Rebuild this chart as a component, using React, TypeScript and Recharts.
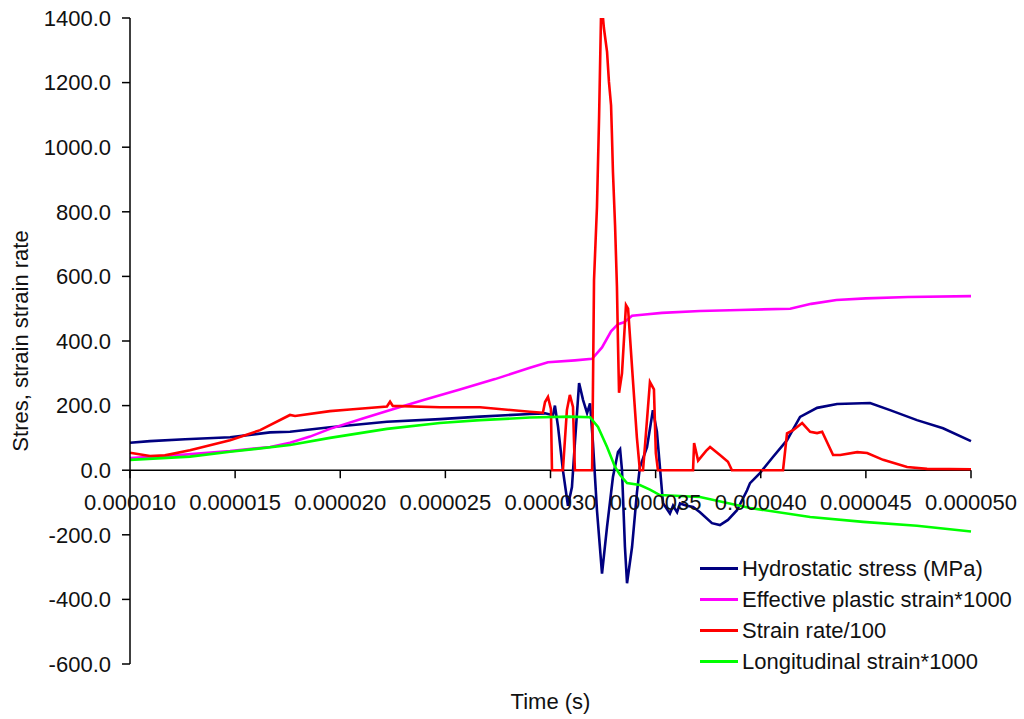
import { Legend, Line, LineChart, ReferenceLine, XAxis, YAxis } from "recharts";

// time values in microseconds, series values as plotted
const HYDRO_T = [10, 10.95, 12.62, 14.76, 16.66, 17.61, 19.51, 22.22, 24.74, 26.65, 29.02, 29.74, 30.12, 30.21, 30.36, 30.59, 30.83, 31.02, 31.16, 31.36, 31.55, 31.74, 31.88, 32.02, 32.21, 32.45, 32.69, 32.97, 33.21, 33.31, 33.4, 33.54, 33.64, 33.88, 34.11, 34.25, 34.59, 34.87, 35.06, 35.35, 35.68, 35.83, 36.02, 36.16, 36.49, 36.78, 37.11, 37.68, 38.06, 38.44, 38.87, 39.35, 39.49, 39.96, 40.58, 41.25, 41.87, 42.68, 43.63, 45.2, 46.15, 47.43, 48.67, 50];
const HYDRO = [85, 90, 96, 102, 117, 119, 133, 150, 158, 166, 174, 176, 170, 200, 134, 0, -110, -52, 84, 270, 217, 177, 207, 84, -124, -320, -175, -21, 56, 65, 0, -237, -350, -237, -70, 9, 71, 186, 120, -102, -134, -110, -130, -103, -110, -114, -130, -164, -170, -154, -124, -62, -40, -9, 41, 93, 165, 193, 205, 208, 186, 155, 130, 90];

const PLASTIC_T = [10, 12, 14.76, 16.66, 17.61, 18.56, 19.51, 21.07, 22.46, 24, 25.69, 27.36, 29.02, 29.88, 31.16, 31.98, 32.45, 32.88, 33.21, 33.5, 33.88, 34.49, 35.3, 37.11, 39, 41.4, 42.4, 43.6, 45, 47, 50];
const PLASTIC = [38, 45, 59, 72, 85, 104, 128, 160, 188, 218, 250, 282, 317, 334, 340, 345, 380, 430, 452, 458, 478, 482, 487, 493, 496, 500, 515, 527, 532, 536, 539];

const RATE_T = [10, 10.95, 11.66, 12.85, 14.76, 16.19, 17.61, 17.85, 19.51, 20.46, 22.22, 22.37, 22.5, 24.74, 26.65, 29.02, 29.64, 29.74, 29.88, 30.02, 30.07, 30.59, 30.78, 30.92, 31.07, 31.16, 31.98, 32.07, 32.21, 32.31, 32.4, 32.5, 32.54, 32.69, 32.78, 32.88, 32.92, 32.97, 33.07, 33.16, 33.21, 33.26, 33.4, 33.59, 33.69, 33.92, 34.11, 34.25, 34.4, 34.49, 34.73, 34.92, 35.01, 35.11, 36.78, 36.83, 37.02, 37.4, 37.59, 38.06, 38.44, 38.63, 41.06, 41.25, 41.54, 41.97, 42.35, 42.68, 42.92, 43.44, 43.78, 44.59, 45.06, 45.82, 46.96, 47.91, 50];
const RATE = [54, 44, 46, 62, 93, 124, 171, 168, 183, 188, 197, 212, 199, 195, 195, 181, 178, 211, 227, 190, 0, 0, 186, 233, 196, 0, 0, 589, 815, 1091, 1398, 1398, 1369, 1295, 1202, 1130, 1043, 924, 759, 568, 393, 240, 300, 511, 500, 279, 100, 0, 0, 72, 273, 250, 53, 0, 0, 84, 30, 60, 72, 47, 26, 0, 0, 114, 124, 146, 119, 115, 119, 47, 47, 56, 53, 32, 10, 4, 3];

const LONG_T = [10, 12.85, 14.76, 17.61, 19.51, 22.22, 24.74, 26.65, 29.02, 30.92, 31.88, 32.26, 32.69, 33.07, 33.31, 33.64, 34.25, 34.73, 35.2, 37.11, 39.49, 42.35, 44.87, 47.43, 50];
const LONG = [32, 42, 57, 78, 100, 128, 146, 155, 163, 166, 164, 134, 72, 10, -15, -40, -46, -60, -77, -83, -117, -145, -160, -172, -190];

const X_TICKS = [10, 15, 20, 25, 30, 35, 40, 45, 50];
const Y_TICKS = [-600, -400, -200, 0, 200, 400, 600, 800, 1000, 1200, 1400];

const SERIES = [
  { name: "Hydrostatic stress (MPa)", color: "#000080", t: HYDRO_T, v: HYDRO },
  { name: "Effective plastic strain*1000", color: "#FF00FF", t: PLASTIC_T, v: PLASTIC },
  { name: "Strain rate/100", color: "#FF0000", t: RATE_T, v: RATE },
  { name: "Longitudinal strain*1000", color: "#00FF00", t: LONG_T, v: LONG },
];

const zip = (t: number[], v: number[]) => t.map((x, i) => ({ t: x, v: v[i] }));

const W = 1024;
const H = 719;
const MARGIN = { top: 18, right: 53, left: 0, bottom: 0 };
const Y_AXIS_W = 130;
const X_AXIS_H = 55;
const Y_MIN = -600;
const Y_MAX = 1400;
const PLOT_H = H - MARGIN.top - MARGIN.bottom - X_AXIS_H;
// distance from the bottom of the plot up to the zero line
const ZERO_SHIFT = (PLOT_H * (0 - Y_MIN)) / (Y_MAX - Y_MIN);

const FONT = "'Liberation Sans', Arial, sans-serif";
const FS = 22;

const fmtTime = (us: number) => (us / 1e6).toFixed(6);

// x ticks drawn on the zero line instead of the plot bottom
const TimeTick = (props: any) => {
  const { x, y, payload } = props;
  const y0 = y - ZERO_SHIFT;
  return (
    <g>
      <line x1={x} x2={x} y1={y0} y2={y0 + 8} stroke="#000" strokeWidth={1.5} />
      <text x={x} y={y0 + 40} textAnchor="middle" fontFamily={FONT} fontSize={FS} fill="#111">
        {fmtTime(payload.value)}
      </text>
    </g>
  );
};

const LegendBox = () => (
  <div style={{ fontFamily: FONT, fontSize: FS, color: "#111" }}>
    {SERIES.map((s) => (
      <div key={s.name} style={{ display: "flex", alignItems: "center", height: 31 }}>
        <span style={{ display: "inline-block", width: 38, height: 3, background: s.color, marginRight: 4 }} />
        <span style={{ whiteSpace: "nowrap" }}>{s.name}</span>
      </div>
    ))}
  </div>
);

export default function App() {
  return (
    <div style={{ position: "absolute", left: 0, top: 0 }}>
      <LineChart width={W} height={H} margin={MARGIN}>
        <XAxis
          dataKey="t"
          type="number"
          domain={[10, 50]}
          ticks={X_TICKS}
          axisLine={false}
          tickLine={false}
          tickSize={0}
          tickMargin={0}
          height={X_AXIS_H}
          tick={<TimeTick />}
          interval={0}
          label={(p: any) => {
            const vb = p.viewBox;
            return (
              <text x={vb.x + vb.width / 2} y={H - 10} textAnchor="middle" fontFamily={FONT} fontSize={FS} fill="#111">
                Time (s)
              </text>
            );
          }}
        />
        <YAxis
          type="number"
          domain={[Y_MIN, Y_MAX]}
          ticks={Y_TICKS}
          interval={0}
          allowDataOverflow
          width={Y_AXIS_W}
          stroke="#000"
          axisLine={{ stroke: "#000", strokeWidth: 1.5 }}
          tickLine={{ stroke: "#000", strokeWidth: 1.5 }}
          tickSize={8}
          tickMargin={11}
          tickFormatter={(v: number) => v.toFixed(1)}
          tick={{ fontFamily: FONT, fontSize: FS, fill: "#111" }}
          label={(p: any) => {
            const vb = p.viewBox;
            const cy = vb.y + vb.height / 2;
            return (
              <text x={28} y={cy} transform={`rotate(-90 28 ${cy})`} textAnchor="middle" fontFamily={FONT} fontSize={FS} fill="#111">
                Stres, strain strain rate
              </text>
            );
          }}
        />
        <ReferenceLine y={0} stroke="#000" strokeWidth={1.5} />
        {SERIES.map((s) => (
          <Line
            key={s.name}
            name={s.name}
            data={zip(s.t, s.v)}
            dataKey="v"
            stroke={s.color}
            strokeWidth={2.6}
            dot={false}
            type="linear"
            isAnimationActive={false}
          />
        ))}
        <Legend
          layout="vertical"
          align="center"
          verticalAlign="middle"
          content={<LegendBox />}
          wrapperStyle={{ left: 700, top: 553, width: 320 }}
        />
      </LineChart>
    </div>
  );
}
